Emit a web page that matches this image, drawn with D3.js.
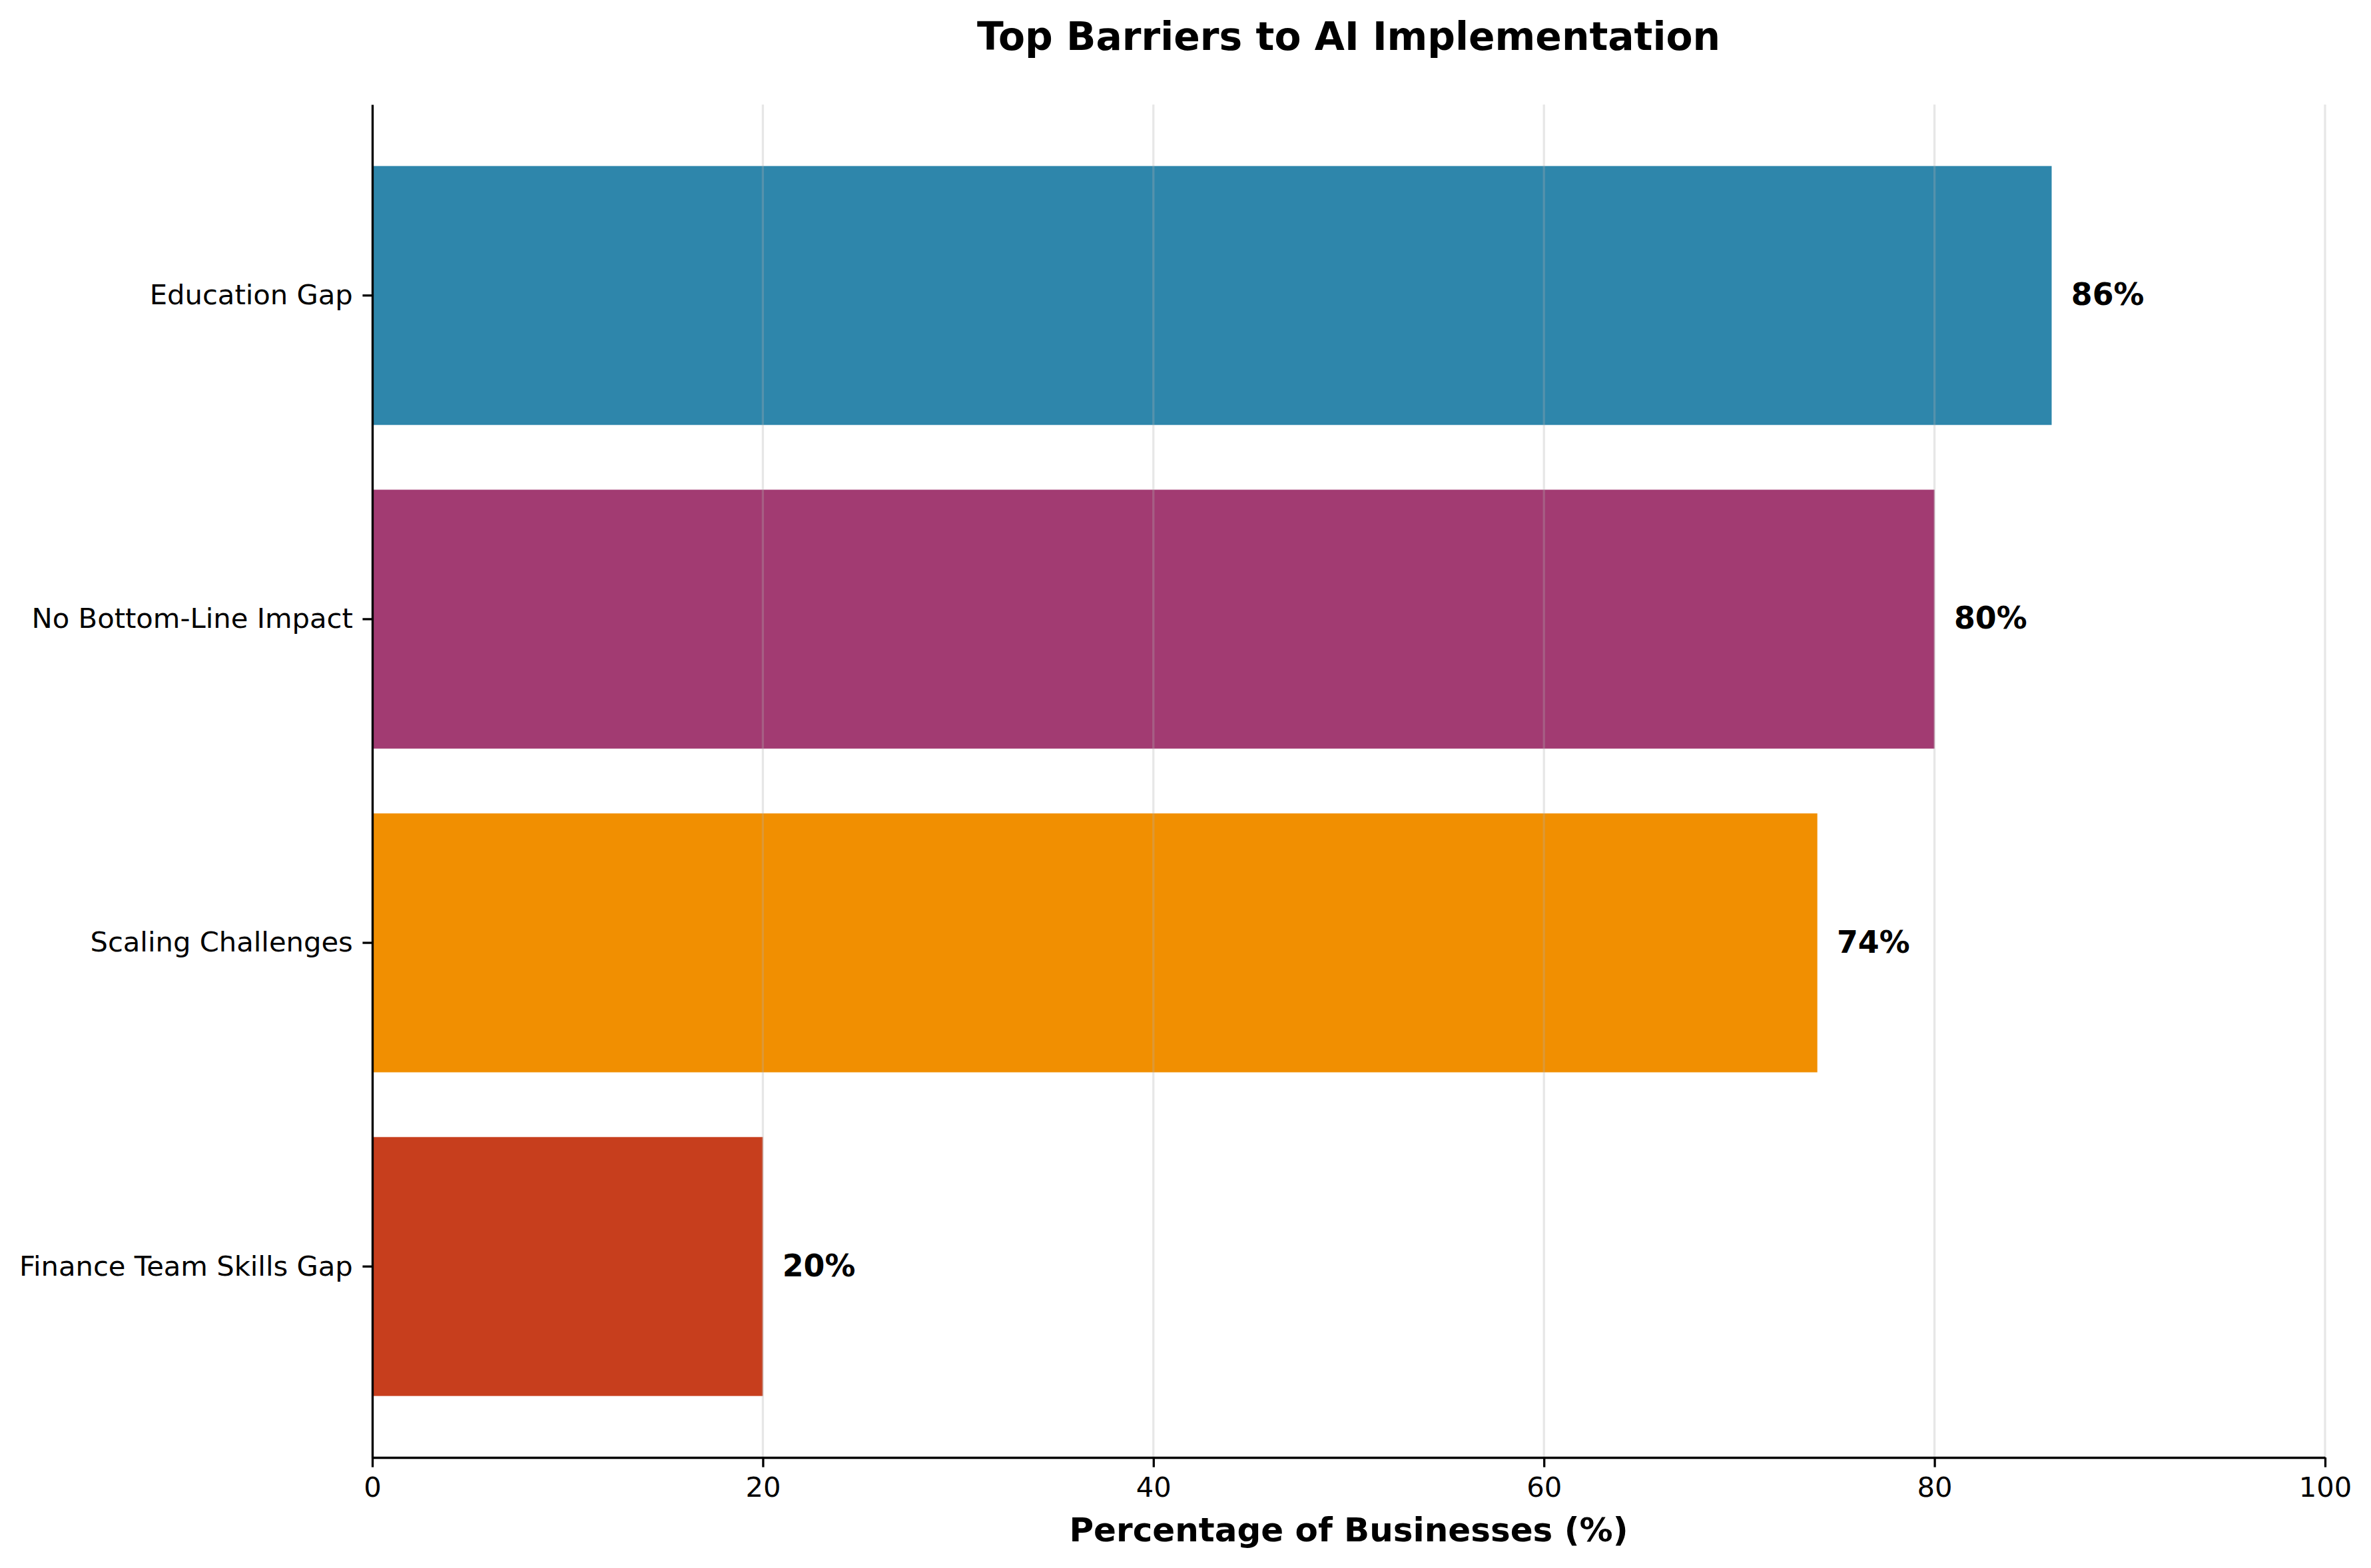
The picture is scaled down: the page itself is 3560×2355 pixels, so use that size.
<!DOCTYPE html>
<html>
<head>
<meta charset="utf-8">
<script src="https://cdn.jsdelivr.net/npm/d3@7"></script>
<style>
  html, body { margin: 0; padding: 0; background: #ffffff; }
  svg { display: block; }
  text { font-family: "DejaVu Sans", sans-serif; }
</style>
</head>
<body>
<svg id="chart" width="3560" height="2355"></svg>
<script>
// ---- data ----
const categories = ["Education Gap", "No Bottom-Line Impact", "Scaling Challenges", "Finance Team Skills Gap"];
const values = [86, 80, 74, 20];
const barColors = ["#2E86AB", "#A23B72", "#F18F01", "#C73E1D"];
const xTicks = [0, 20, 40, 60, 80, 100];
const titleText = "Top Barriers to AI Implementation";
const xLabelText = "Percentage of Businesses (%)";

// ---- layout ----
const W = 3560, H = 2355;
const margin = { left: 559, right: W - 3491, top: 157, bottom: H - 2189 };
const svg = d3.select("#chart");
svg.append("rect").attr("width", W).attr("height", H).attr("fill", "#ffffff");

const x = d3.scaleLinear().domain([0, 100]).range([margin.left, W - margin.right]);
const y = d3.scaleBand().domain(categories)
  .range([margin.top, H - margin.bottom])
  .paddingInner(0.2).paddingOuter(0.19);

const g = svg.append("g");

// bars
g.selectAll("rect.bar").data(categories).join("rect")
  .attr("class", "bar")
  .attr("x", x(0))
  .attr("y", d => y(d))
  .attr("width", (d, i) => x(values[i]) - x(0))
  .attr("height", y.bandwidth())
  .attr("fill", (d, i) => barColors[i]);

// grid lines (drawn over bars, translucent)
g.selectAll("line.grid").data(xTicks).join("line")
  .attr("class", "grid")
  .attr("x1", d => x(d)).attr("x2", d => x(d))
  .attr("y1", margin.top).attr("y2", H - margin.bottom)
  .attr("stroke", "#b0b0b0").attr("stroke-opacity", 0.3)
  .attr("stroke-width", 3.3);

// value labels
g.selectAll("text.val").data(categories).join("text")
  .attr("class", "val")
  .attr("x", (d, i) => x(values[i] + 1))
  .attr("y", d => y(d) + y.bandwidth() / 2 - 2)
  .attr("dy", "0.36em")
  .attr("font-size", 45.8)
  .attr("font-weight", "bold")
  .attr("fill", "#000")
  .text((d, i) => values[i] + "%");

// x axis
const xAxis = d3.axisBottom(x).tickValues(xTicks).tickFormat(d3.format("d"))
  .tickSize(14.6).tickPadding(14.6).tickSizeOuter(0);
const gx = svg.append("g").attr("transform", `translate(0,${H - margin.bottom})`).call(xAxis);
gx.select(".domain").attr("stroke", "#000").attr("stroke-width", 3.3);
gx.selectAll(".tick line").attr("stroke", "#000").attr("stroke-width", 3.3);
gx.selectAll(".tick text").attr("font-size", 41.7).attr("font-family", "DejaVu Sans").attr("fill", "#000");

// y axis
const yAxis = d3.axisLeft(y).tickSize(14.6).tickPadding(14.6).tickSizeOuter(0);
const gy = svg.append("g").attr("transform", `translate(${margin.left},0)`).call(yAxis);
gy.select(".domain").attr("stroke", "#000").attr("stroke-width", 3.3);
gy.selectAll(".tick line").attr("stroke", "#000").attr("stroke-width", 3.3);
gy.selectAll(".tick text").attr("font-size", 41.7).attr("font-family", "DejaVu Sans").attr("fill", "#000");

// title
svg.append("text")
  .attr("x", (x(0) + x(100)) / 2).attr("y", 75)
  .attr("text-anchor", "middle")
  .attr("font-size", 58.3).attr("font-weight", "bold").attr("fill", "#000")
  .text(titleText);

// x label
svg.append("text")
  .attr("x", (x(0) + x(100)) / 2).attr("y", 2315)
  .attr("text-anchor", "middle")
  .attr("font-size", 50).attr("font-weight", "bold").attr("fill", "#000")
  .text(xLabelText);
</script>
</body>
</html>
